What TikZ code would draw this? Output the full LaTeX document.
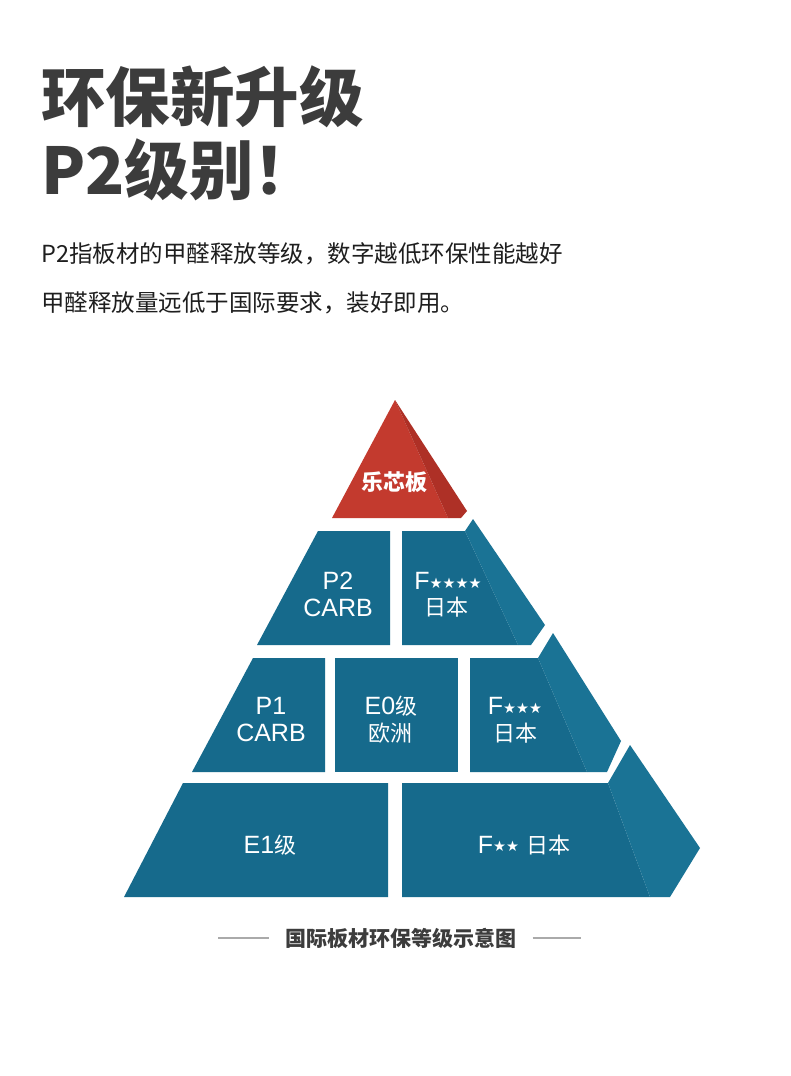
\documentclass[tikz,border=0pt]{standalone}
\usepackage{fontspec}
\setmainfont{Liberation Sans}
\newfontfamily\cjk{Noto Sans CJK SC}
\newfontfamily\symf{DejaVu Sans}
\definecolor{titlegray}{HTML}{3C3C3C}
\definecolor{textdark}{HTML}{1E1E1E}
\definecolor{tealfront}{HTML}{166A8C}
\definecolor{tealside}{HTML}{1A7395}
\definecolor{redfront}{HTML}{C33A2E}
\definecolor{redside}{HTML}{AE3026}
\definecolor{capline}{HTML}{AAAAAA}
\newcommand\starsize[1]{\raisebox{1.5pt}{\symf\fontsize{14.5}{14.5}\selectfont #1}}
\tikzset{
  front/.style={fill=tealfront},
  side/.style={fill=tealside},
  lbl/.style={text=white,inner sep=0pt,font=\fontsize{25}{25}\selectfont},
  cjklbl/.style={text=white,inner sep=0pt,font=\cjk\fontsize{22}{22}\selectfont},
  title/.style={anchor=base west,inner sep=0pt,text=titlegray,font=\cjk\bfseries\fontsize{64.5}{64.5}\selectfont},
  para/.style={anchor=base west,inner sep=0pt,text=textdark,font=\cjk\fontsize{23.5}{23.5}\selectfont},
}
\begin{document}
\begin{tikzpicture}[x=1pt,y=-1pt]
\useasboundingbox[fill=white] (0,0) rectangle (790,1076);
% titles
\node[title] (t1) at (41,121) {环保新升级};
\node[title] (t2) at (41,194) {P2级别！};
\node[para] (p1) at (41,262) {P2指板材的甲醛释放等级，数字越低环保性能越好};
\node[para] (p2) at (41,311) {甲醛释放量远低于国际要求，装好即用。};
% red top
\fill[redfront] (395,400) -- (332,518) -- (448,518) -- cycle;
\fill[redside] (395,400) -- (467,511) -- (461,518) -- (448,518) -- cycle;
% tier 2
\fill[front] (318,531) -- (390,531) -- (390,645) -- (257,645) -- cycle;
\fill[front] (402,531) -- (465,531) -- (518,645) -- (402,645) -- cycle;
\fill[side] (465,531) -- (473,519) -- (545,625) -- (531,645) -- (518,645) -- cycle;
% tier 3
\fill[front] (253,658) -- (325,658) -- (325,772) -- (192,772) -- cycle;
\fill[front] (335,658) -- (458,658) -- (458,772) -- (335,772) -- cycle;
\fill[front] (470,658) -- (538,658) -- (587,772) -- (470,772) -- cycle;
\fill[side] (538,658) -- (553,633) -- (621,741) -- (607,772) -- (587,772) -- cycle;
% tier 4
\fill[front] (183,783) -- (388,783) -- (388,897) -- (124,897) -- cycle;
\fill[front] (402,783) -- (608,783) -- (650,897) -- (402,897) -- cycle;
\fill[side] (608,783) -- (630,745) -- (700,848) -- (670,897) -- (650,897) -- cycle;
% labels
\node[cjklbl,font=\cjk\bfseries\fontsize{22}{22}\selectfont] (top) at (394,482) {乐芯板};
\node[lbl] (p2a) at (338,581) {P2};
\node[lbl] (p2b) at (338,608) {CARB};
\node[lbl] (f4a) at (448,581) {F\starsize{★★★★}};
\node[cjklbl] (f4b) at (446,607) {日本};
\node[lbl] (p1a) at (271,706) {P1};
\node[lbl] (p1b) at (271,733) {CARB};
\node[lbl] (e0a) at (391,706) {E0{\cjk\fontsize{22}{22}\selectfont 级}};
\node[cjklbl] (e0b) at (390,733) {欧洲};
\node[lbl] (f3a) at (515,706) {F\starsize{★★★}};
\node[cjklbl] (f3b) at (515,733) {日本};
\node[lbl] (e1) at (270,845) {E1{\cjk\fontsize{22}{22}\selectfont 级}};
\node[lbl] (f2) at (524,845) {F\starsize{★★} {\cjk\fontsize{22}{22}\selectfont 日本}};
% caption
\node[inner sep=0pt,text=titlegray,font=\cjk\bfseries\fontsize{21}{21}\selectfont] (cap) at (401,938) {国际板材环保等级示意图};
\coordinate (l1) at (218,938);
\coordinate (r1) at (581,938);
\draw[capline,line width=1.2pt] (l1) -- ([xshift=-16pt]cap.west);
\draw[capline,line width=1.2pt] ([xshift=16pt]cap.east) -- (r1);
\end{tikzpicture}
\end{document}
